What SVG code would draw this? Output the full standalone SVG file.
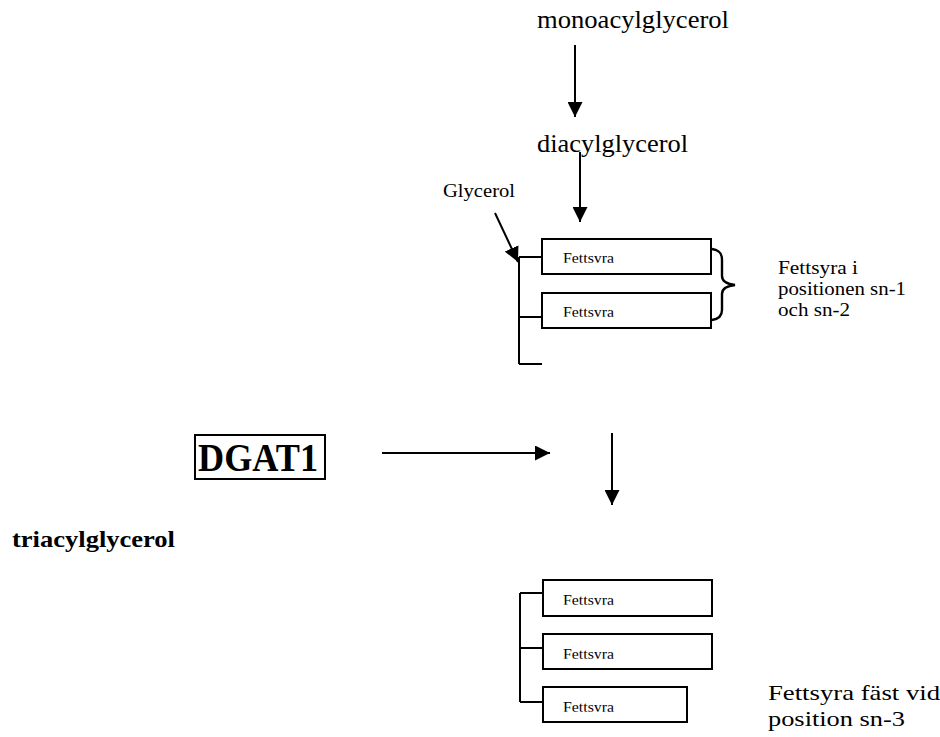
<svg xmlns="http://www.w3.org/2000/svg" width="940" height="737" viewBox="0 0 940 737">
<style>
.t{font-family:"Liberation Serif","Times New Roman",serif;fill:#000}
.b{font-weight:bold}
.box{fill:#fff;stroke:#000;stroke-width:2}
.ln{fill:none;stroke:#000;stroke-width:2}
.fs{font-size:15px}
</style>
<defs>
<marker id="ah" viewBox="0 0 10 10" refX="10" refY="5" markerWidth="7.5" markerHeight="7.5" markerUnits="strokeWidth" orient="auto">
<path d="M0,0 L10,5 L0,10 Z" fill="#000"/>
</marker>
<clipPath id="cut" clipPathUnits="objectBoundingBox"><rect x="-0.1" y="-0.1" width="1.2" height="0.9"/></clipPath>
</defs>
<rect width="940" height="737" fill="#fff"/>
<g id="connectors">
<line class="ln" x1="575" y1="45" x2="575" y2="117" marker-end="url(#ah)"/>
<line class="ln" x1="580" y1="152" x2="580" y2="222" marker-end="url(#ah)"/>
<line class="ln" x1="495" y1="213" x2="518" y2="262" marker-end="url(#ah)"/>
<line class="ln" x1="382" y1="453" x2="550" y2="453" marker-end="url(#ah)"/>
<line class="ln" x1="612" y1="433" x2="612" y2="505" marker-end="url(#ah)"/>
</g>
<g id="mono"><text class="t" x="537" y="28" font-size="25" textLength="192" lengthAdjust="spacingAndGlyphs">monoacylglycerol</text></g>
<g id="di"><text class="t" x="537" y="152" font-size="25" textLength="151" lengthAdjust="spacingAndGlyphs">diacylglycerol</text></g>
<g id="glycerol-label"><text class="t" x="443" y="197" font-size="18" textLength="72" lengthAdjust="spacingAndGlyphs">Glycerol</text></g>
<g id="dag">
<path class="ln" d="M519,257 V364 M519,257 H542 M519,317 H542 M519,364 H542"/>
<rect class="box" x="542" y="239" width="169" height="35"/>
<rect class="box" x="542" y="293" width="169" height="35"/>
<text class="t fs" x="563" y="263" textLength="51" lengthAdjust="spacingAndGlyphs" clip-path="url(#cut)">Fettsyra</text>
<text class="t fs" x="563" y="317" textLength="51" lengthAdjust="spacingAndGlyphs" clip-path="url(#cut)">Fettsyra</text>
<path d="M712,249 C719,250 722,253 722,260 V276 C722,281 726,284 735,285 C726,286 722,289 722,294 V310 C722,316 719,319 712,320" fill="none" stroke="#000" stroke-width="2.4"/>
</g>
<g id="sn12">
<text class="t" x="778" y="274" font-size="19" textLength="80" lengthAdjust="spacingAndGlyphs">Fettsyra i</text>
<text class="t" x="778" y="295" font-size="19" textLength="128" lengthAdjust="spacingAndGlyphs">positionen sn-1</text>
<text class="t" x="778" y="316" font-size="19" textLength="72" lengthAdjust="spacingAndGlyphs">och sn-2</text>
</g>
<g id="dgat1">
<rect class="box" x="195" y="435" width="130" height="44"/>
<text class="t b" x="198" y="471" font-size="39" textLength="120" lengthAdjust="spacingAndGlyphs">DGAT1</text>
</g>
<g id="tri"><text class="t b" x="12" y="547" font-size="24" textLength="163" lengthAdjust="spacingAndGlyphs">triacylglycerol</text></g>
<g id="tag">
<path class="ln" d="M520,593 V702 M520,593 H543 M520,648 H543 M520,702 H543"/>
<rect class="box" x="543" y="580" width="169" height="36"/>
<rect class="box" x="543" y="634" width="169" height="35"/>
<rect class="box" x="543" y="687" width="144" height="35"/>
<text class="t fs" x="563" y="605" textLength="51" lengthAdjust="spacingAndGlyphs" clip-path="url(#cut)">Fettsyra</text>
<text class="t fs" x="563" y="659" textLength="51" lengthAdjust="spacingAndGlyphs" clip-path="url(#cut)">Fettsyra</text>
<text class="t fs" x="563" y="712" textLength="51" lengthAdjust="spacingAndGlyphs" clip-path="url(#cut)">Fettsyra</text>
</g>
<g id="sn3">
<text class="t" x="768" y="700" font-size="22" textLength="172" lengthAdjust="spacingAndGlyphs">Fettsyra fäst vid</text>
<text class="t" x="768" y="726" font-size="22" textLength="137" lengthAdjust="spacingAndGlyphs">position sn-3</text>
</g>
</svg>
